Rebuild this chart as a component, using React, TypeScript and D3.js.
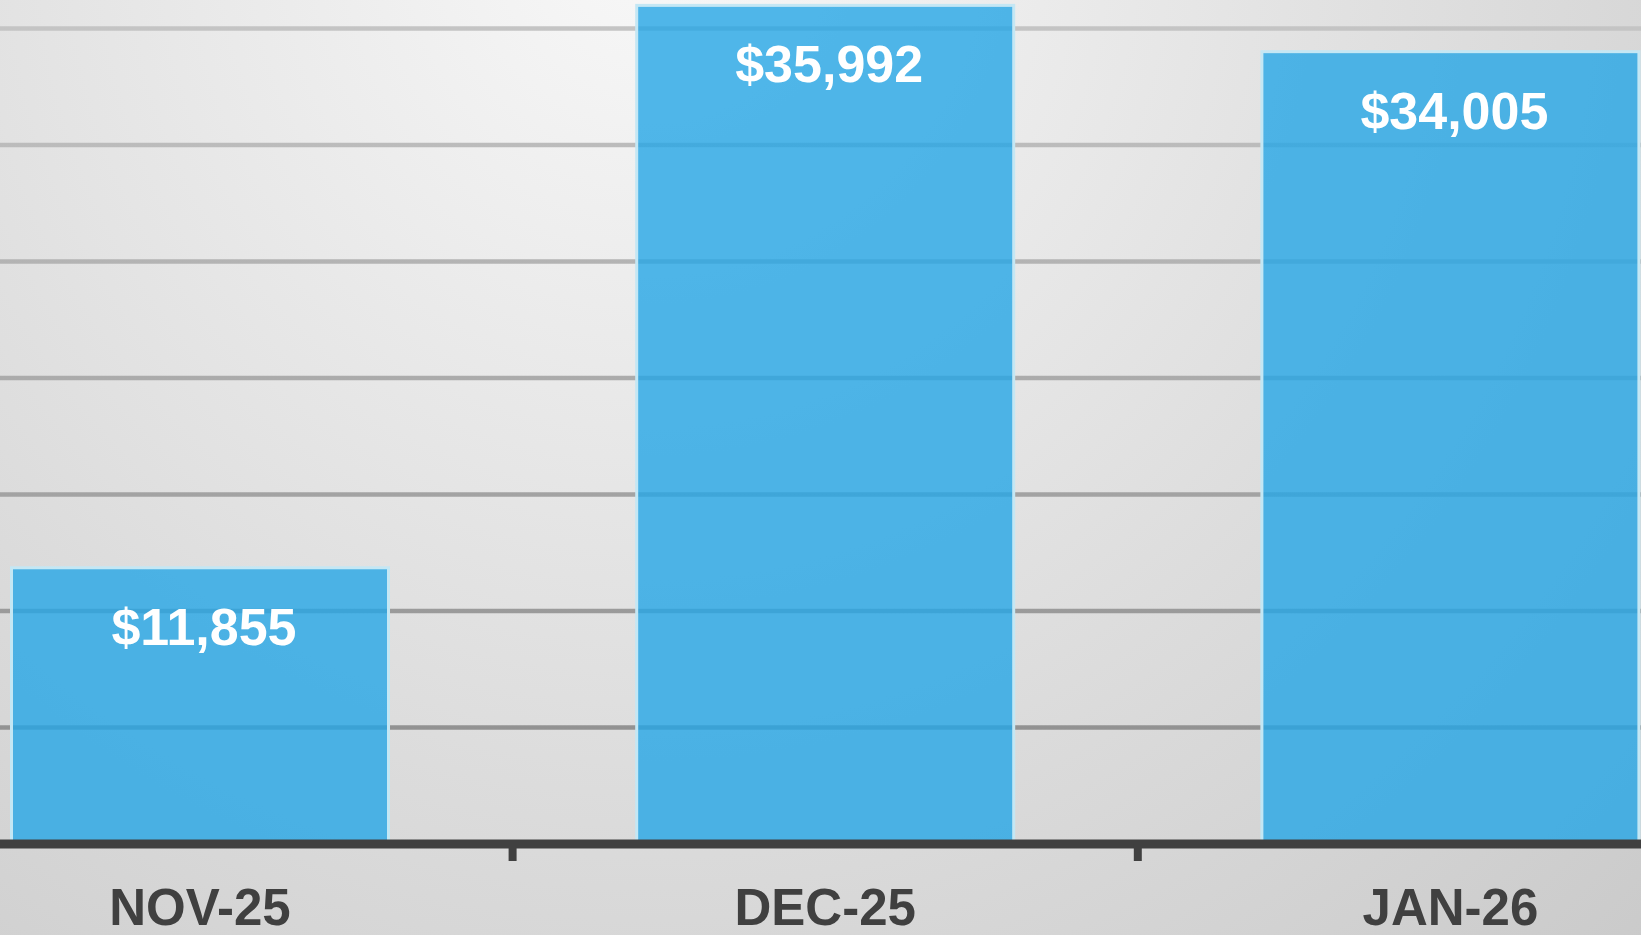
import React, { useEffect, useRef } from "react";
import * as d3 from "d3";

const months = ["NOV-25", "DEC-25", "JAN-26"];
const revenue = [11855, 35992, 34005];
const gridValues = [5000, 10000, 15000, 20000, 25000, 30000, 35000];

const W = 1641;
const H = 935;

export default function App() {
  const ref = useRef<SVGSVGElement | null>(null);

  useEffect(() => {
    document.body.style.margin = "0";
    const svg = d3.select(ref.current);
    svg.selectAll("*").remove();

    const x = d3
      .scaleBand<string>()
      .domain(months)
      .range([-112.6, 1763])
      .paddingInner(0.397)
      .paddingOuter(0.1985);

    const y = d3.scaleLinear().domain([0, 36223]).range([844, 0]);

    const defs = svg.append("defs");
    const bg = defs
      .append("radialGradient")
      .attr("id", "bg")
      .attr("gradientUnits", "userSpaceOnUse")
      .attr("cx", 650)
      .attr("cy", -60)
      .attr("r", 1550);
    bg.append("stop").attr("offset", "0%").attr("stop-color", "#f8f8f8");
    bg.append("stop").attr("offset", "55%").attr("stop-color", "#dcdcdc");
    bg.append("stop").attr("offset", "100%").attr("stop-color", "#c6c6c6");

    const gg = defs
      .append("linearGradient")
      .attr("id", "gridGrad")
      .attr("gradientUnits", "userSpaceOnUse")
      .attr("x1", 0)
      .attr("y1", 0)
      .attr("x2", 0)
      .attr("y2", 844);
    gg.append("stop").attr("offset", "0%").attr("stop-color", "#c6c6c6");
    gg.append("stop").attr("offset", "100%").attr("stop-color", "#8a8a8a");

    svg.append("rect").attr("width", W).attr("height", H).attr("fill", "url(#bg)");

    // gridlines
    svg
      .append("g")
      .selectAll("line")
      .data(gridValues)
      .join("line")
      .attr("x1", 0)
      .attr("x2", W)
      .attr("y1", (d) => y(d))
      .attr("y2", (d) => y(d))
      .attr("stroke", "url(#gridGrad)")
      .attr("stroke-width", 4.5);

    // bars
    svg
      .append("g")
      .selectAll("rect")
      .data(revenue)
      .join("rect")
      .attr("x", (_d, i) => x(months[i])!)
      .attr("y", (d) => y(d))
      .attr("width", x.bandwidth())
      .attr("height", (d) => y(0) - y(d))
      .attr("fill", "rgb(38,166,230)")
      .attr("fill-opacity", 0.8)
      .attr("stroke", "#c4e7f4")
      .attr("stroke-width", 3);

    // value labels
    svg
      .append("g")
      .selectAll("text")
      .data(revenue)
      .join("text")
      .attr("x", (_d, i) => x(months[i])! + x.bandwidth() / 2 + 4)
      .attr("y", (d) => y(d) + 77)
      .attr("text-anchor", "middle")
      .attr("fill", "#ffffff")
      .attr("font-family", "'Liberation Sans', Arial, Helvetica, sans-serif")
      .attr("font-weight", "bold")
      .attr("font-size", 52)
      .text((d) => "$" + d3.format(",")(d));

    // axis line
    svg
      .append("line")
      .attr("x1", 0)
      .attr("x2", W)
      .attr("y1", y(0))
      .attr("y2", y(0))
      .attr("stroke", "#404040")
      .attr("stroke-width", 9);

    // ticks between categories
    const tickXs = months.slice(1).map((m) => x(m)! - (x.step() - x.bandwidth()) / 2);
    svg
      .append("g")
      .selectAll("line")
      .data(tickXs)
      .join("line")
      .attr("x1", (d) => d)
      .attr("x2", (d) => d)
      .attr("y1", y(0))
      .attr("y2", 861)
      .attr("stroke", "#404040")
      .attr("stroke-width", 8);

    // category labels
    svg
      .append("g")
      .selectAll("text")
      .data(months)
      .join("text")
      .attr("x", (d) => x(d)! + x.bandwidth() / 2)
      .attr("y", 925)
      .attr("text-anchor", "middle")
      .attr("fill", "#404040")
      .attr("font-family", "'Liberation Sans', Arial, Helvetica, sans-serif")
      .attr("font-weight", "bold")
      .attr("font-size", 51)
      .text((d) => d);
  }, []);

  return (
    <div style={{ position: "fixed", left: 0, top: 0, width: W, height: H }}>
      <svg ref={ref} width={W} height={H} style={{ display: "block" }} />
    </div>
  );
}
